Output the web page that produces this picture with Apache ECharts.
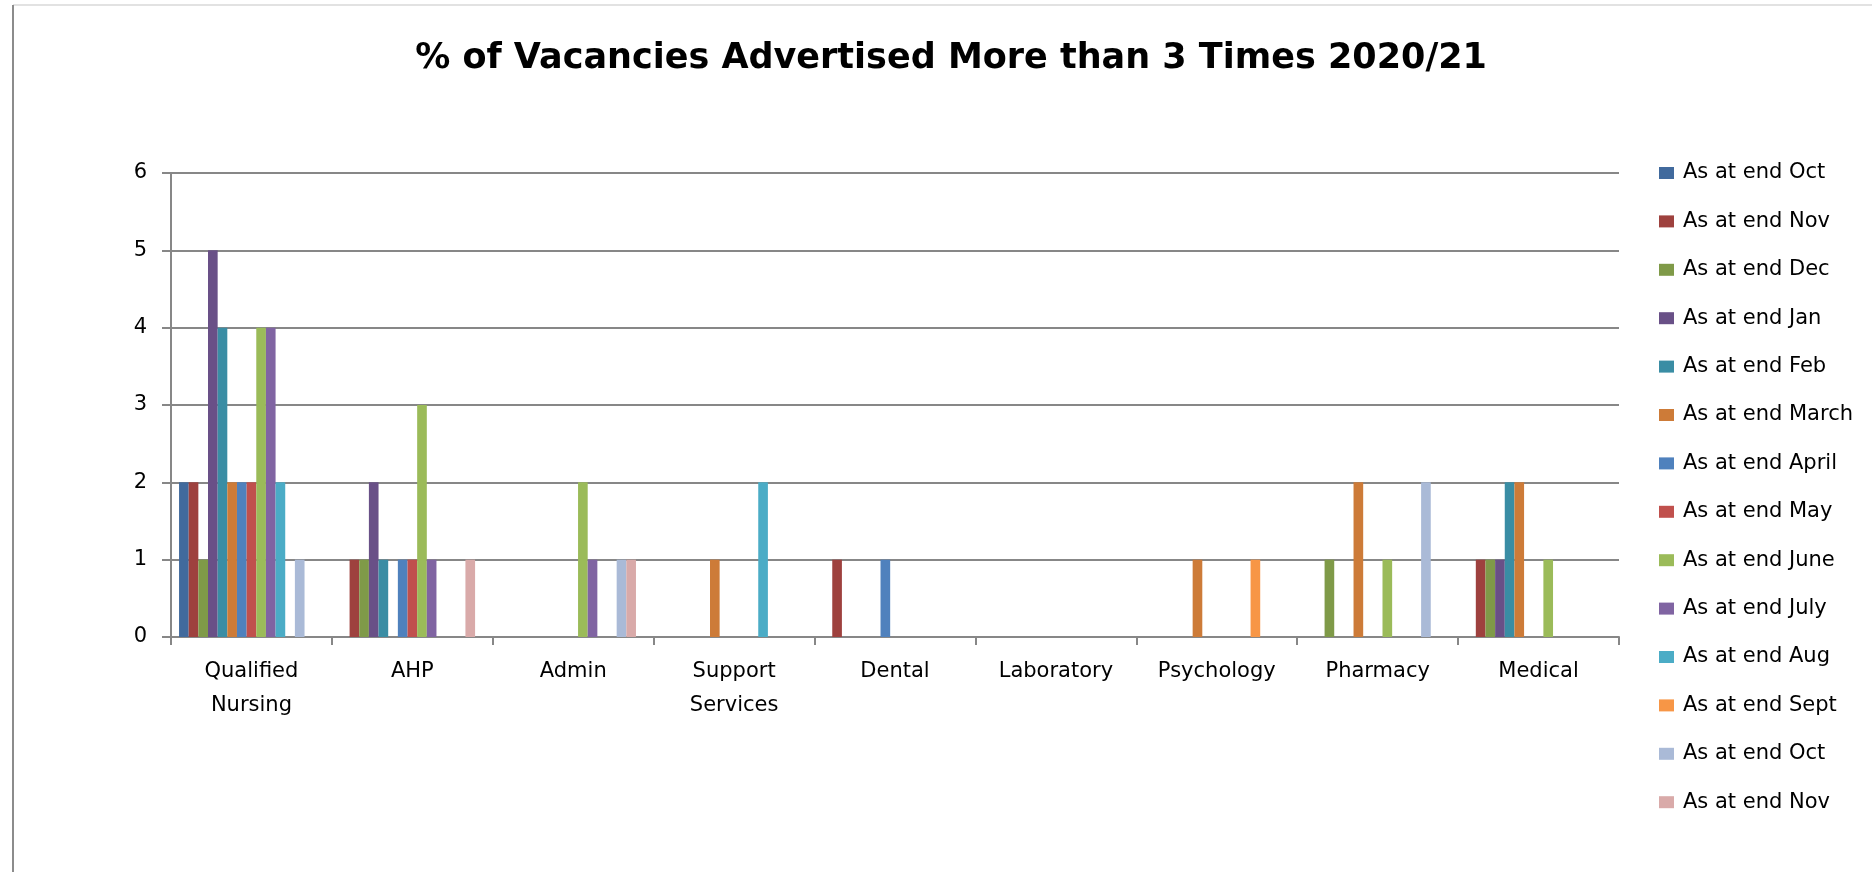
<!DOCTYPE html>
<html>
<head>
<meta charset="utf-8">
<title>% of Vacancies Advertised More than 3 Times 2020/21</title>
<script src="https://cdn.jsdelivr.net/npm/echarts@6/dist/echarts.min.js"></script>
<style>
  html, body { margin: 0; padding: 0; background: #ffffff; }
  #chart { width: 1872px; height: 872px; }
</style>
</head>
<body>
<div id="chart"></div>
<script>
// Staff groups along the x axis
const categories = ['Qualified\nNursing', 'AHP', 'Admin', 'Support\nServices', 'Dental',
  'Laboratory', 'Psychology', 'Pharmacy', 'Medical'];

// Month-end snapshots (Oct 2020 .. Nov 2021); the repeated months carry a trailing space
const seriesNames = ['As at end Oct', 'As at end Nov', 'As at end Dec', 'As at end Jan',
  'As at end Feb', 'As at end March', 'As at end April', 'As at end May', 'As at end June',
  'As at end July', 'As at end Aug', 'As at end Sept', 'As at end Oct ', 'As at end Nov '];

const seriesColors = ['#416A9D', '#9E413E', '#7F9A48', '#695087', '#3A8DA4', '#CD7B38',
  '#4F81BD', '#C0504D', '#9BBB59', '#8064A2', '#4BACC6', '#F79646', '#AABAD7', '#D9AAA9'];

// Values per month, one entry per staff group (same order as categories)
const endOct2020 = [2, 0, 0, 0, 0, 0, 0, 0, 0];
const endNov2020 = [2, 1, 0, 0, 1, 0, 0, 0, 1];
const endDec     = [1, 1, 0, 0, 0, 0, 0, 1, 1];
const endJan     = [5, 2, 0, 0, 0, 0, 0, 0, 1];
const endFeb     = [4, 1, 0, 0, 0, 0, 0, 0, 2];
const endMarch   = [2, 0, 0, 1, 0, 0, 1, 2, 2];
const endApril   = [2, 1, 0, 0, 1, 0, 0, 0, 0];
const endMay     = [2, 1, 0, 0, 0, 0, 0, 0, 0];
const endJune    = [4, 3, 2, 0, 0, 0, 0, 1, 1];
const endJuly    = [4, 1, 1, 0, 0, 0, 0, 0, 0];
const endAug     = [2, 0, 0, 2, 0, 0, 0, 0, 0];
const endSept    = [0, 0, 0, 0, 0, 0, 1, 0, 0];
const endOct2021 = [1, 0, 1, 0, 0, 0, 0, 2, 0];
const endNov2021 = [0, 1, 1, 0, 0, 0, 0, 0, 0];

const seriesValues = [endOct2020, endNov2020, endDec, endJan, endFeb, endMarch, endApril,
  endMay, endJune, endJuly, endAug, endSept, endOct2021, endNov2021];

const yTicks = { min: 0, max: 6, interval: 1 };

const axisGrey = '#878787';
const font = 'DejaVu Sans';

const chart = echarts.init(document.getElementById('chart'), null, { renderer: 'canvas' });

const barDefaults = {
  type: 'bar',
  barGap: '0%',
  barCategoryGap: '10%',
  emphasis: { disabled: true },
  animation: false
};

const series = seriesNames.map((name, i) => Object.assign({}, barDefaults, {
  name: name,
  data: seriesValues[i],
  itemStyle: { color: seriesColors[i] }
}));

// empty trailing slot so each cluster sits left of centre, leaving room before the next tick
series.push(Object.assign({}, barDefaults, {
  data: categories.map(() => null),
  itemStyle: { color: 'rgba(0,0,0,0)' },
  silent: true
}));

chart.setOption({
  animation: false,
  backgroundColor: '#ffffff',
  title: {
    text: '% of Vacancies Advertised More than 3 Times 2020/21',
    left: 946,
    textAlign: 'center',
    top: 36,
    textStyle: { fontFamily: font, fontWeight: 'bold', fontSize: 35, color: '#000000' }
  },
  legend: {
    orient: 'vertical',
    left: 1654,
    top: 157,
    itemWidth: 15,
    itemHeight: 12,
    itemGap: 26.4,
    icon: 'rect',
    data: seriesNames,
    selectedMode: false,
    textStyle: {
      fontFamily: font, fontSize: 21, color: '#000000', lineHeight: 22,
      padding: [0, 0, 0, 4]
    }
  },
  grid: { left: 171, right: 253, top: 173, bottom: 235, containLabel: false },
  xAxis: {
    type: 'category',
    data: categories,
    axisLine: { show: true, lineStyle: { color: axisGrey, width: 2 } },
    axisTick: { show: true, length: 8, lineStyle: { color: axisGrey, width: 2 } },
    axisLabel: {
      color: '#000000', fontFamily: font, fontSize: 21, lineHeight: 34,
      margin: 18, interval: 0
    },
    splitLine: { show: false }
  },
  yAxis: {
    type: 'value',
    min: yTicks.min,
    max: yTicks.max,
    interval: yTicks.interval,
    axisLine: { show: true, lineStyle: { color: axisGrey, width: 2 } },
    axisTick: { show: true, inside: false, length: 9, lineStyle: { color: axisGrey, width: 2 } },
    axisLabel: { color: '#000000', fontFamily: font, fontSize: 21, margin: 24 },
    splitLine: { show: true, lineStyle: { color: axisGrey, width: 2 } }
  },
  graphic: [
    // chart frame: light top edge and grey left edge
    { type: 'line', silent: true, shape: { x1: 13, y1: 5, x2: 1872, y2: 5 },
      style: { stroke: '#e2e2e2', lineWidth: 2 } },
    { type: 'line', silent: true, shape: { x1: 13, y1: 5, x2: 13, y2: 872 },
      style: { stroke: '#8c8c8c', lineWidth: 2 } }
  ],
  series: series
});
</script>
</body>
</html>
